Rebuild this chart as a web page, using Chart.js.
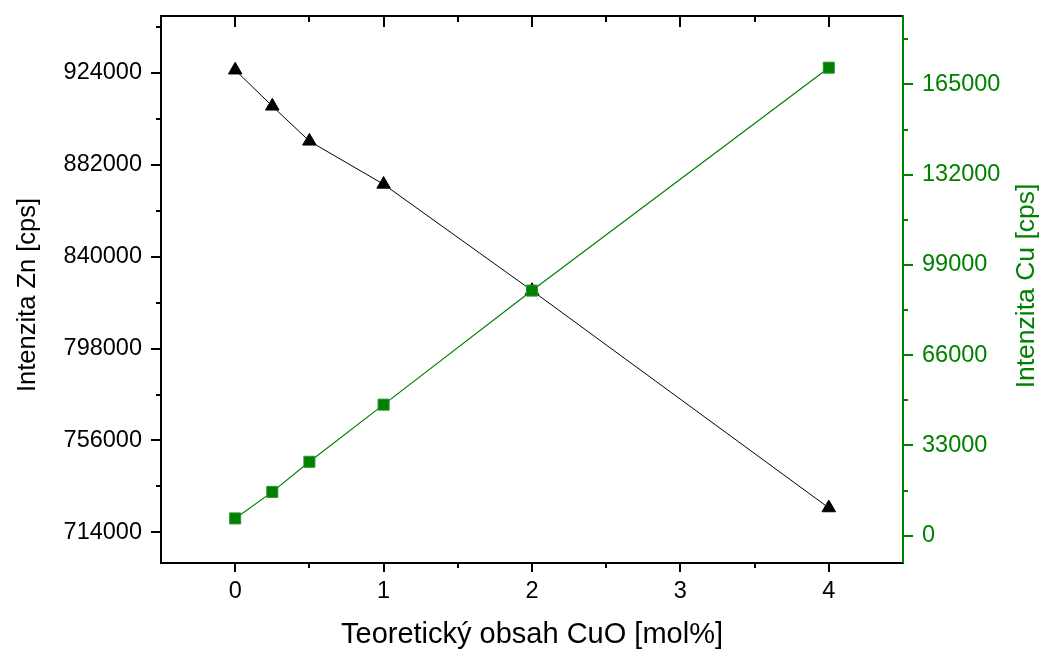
<!DOCTYPE html>
<html><head><meta charset="utf-8">
<script src="https://cdn.jsdelivr.net/npm/chart.js@4/dist/chart.umd.min.js"></script>
<style>html,body{margin:0;padding:0;background:#fff}#wrap{width:1045px;height:650px}</style>
</head><body><div id="wrap"><canvas id="c" width="1045" height="650"></canvas></div>
<script>
// ---- data ----
const cuoContent = [0, 0.25, 0.5, 1, 2, 4];
const znIntensity = [925300, 908800, 892800, 873100, 824500, 725200];
const cuIntensity = [6300, 16000, 27000, 47900, 89600, 171100];
// ---- tick labels ----
const xMajorTicks = [0, 1, 2, 3, 4];
const xMinorTicks = [0.5, 1.5, 2.5, 3.5];
const znMajorTicks = [714000, 756000, 798000, 840000, 882000, 924000];
const znMinorTicks = [735000, 777000, 819000, 861000, 903000, 945000];
const cuMajorTicks = [0, 33000, 66000, 99000, 132000, 165000];
const cuMinorTicks = [16500, 49500, 82500, 115500, 148500, 181500];
const xTitle = 'Teoretický obsah CuO [mol%]';
const znTitle = 'Intenzita Zn [cps]';
const cuTitle = 'Intenzita Cu [cps]';

const GREEN = '#008000';
const FONT = "'Liberation Sans', Arial, sans-serif";
Chart.defaults.font.family = FONT;

function verticalTitle(ctx, text, color, size, baselineX, centerY) {
  ctx.save();
  ctx.fillStyle = color;
  ctx.font = size + 'px ' + FONT;
  ctx.textAlign = 'center';
  ctx.textBaseline = 'alphabetic';
  ctx.translate(baselineX, centerY);
  ctx.rotate(-Math.PI / 2);
  ctx.fillText(text, 0, 0);
  ctx.restore();
}

const frameTicks = {
  id: 'frameTicks',
  afterDraw(chart) {
    const {ctx, chartArea: a, scales} = chart;
    const x = scales.x, yl = scales.yZn, yr = scales.yCu;
    ctx.save();
    ctx.lineWidth = 2;
    ctx.lineCap = 'butt';
    ctx.strokeStyle = '#000';
    ctx.beginPath();
    ctx.moveTo(a.left, a.bottom); ctx.lineTo(a.left, a.top - 1);
    ctx.moveTo(a.left - 1, a.top); ctx.lineTo(a.right, a.top);
    ctx.moveTo(a.left - 1, a.bottom); ctx.lineTo(a.right + 1, a.bottom);
    xMajorTicks.forEach(v => { const p = Math.round(x.getPixelForValue(v));
      ctx.moveTo(p, a.bottom); ctx.lineTo(p, a.bottom + 9);
      ctx.moveTo(p, a.top); ctx.lineTo(p, a.top + 11); });
    xMinorTicks.forEach(v => { const p = Math.round(x.getPixelForValue(v));
      ctx.moveTo(p, a.bottom); ctx.lineTo(p, a.bottom + 5);
      ctx.moveTo(p, a.top); ctx.lineTo(p, a.top + 6); });
    znMajorTicks.forEach(v => { const p = Math.round(yl.getPixelForValue(v));
      ctx.moveTo(a.left, p); ctx.lineTo(a.left - 10, p); });
    znMinorTicks.forEach(v => { const p = Math.round(yl.getPixelForValue(v));
      ctx.moveTo(a.left, p); ctx.lineTo(a.left - 5, p); });
    ctx.stroke();
    ctx.strokeStyle = GREEN;
    ctx.beginPath();
    ctx.moveTo(a.right, a.top - 1); ctx.lineTo(a.right, a.bottom);
    cuMajorTicks.forEach(v => { const p = Math.round(yr.getPixelForValue(v));
      ctx.moveTo(a.right, p); ctx.lineTo(a.right + 10, p); });
    cuMinorTicks.forEach(v => { const p = Math.round(yr.getPixelForValue(v));
      ctx.moveTo(a.right, p); ctx.lineTo(a.right + 5, p); });
    ctx.stroke();
    ctx.restore();
    verticalTitle(ctx, znTitle, '#000', 25.5, 35, 295);
    verticalTitle(ctx, cuTitle, GREEN, 26.5, 1034, 286);
  }
};

const setTicks = arr => scale => { scale.ticks = arr.map(v => ({value: v})); };
const noPad = s => { s.paddingTop = 0; s.paddingBottom = 0; s.paddingLeft = 0; s.paddingRight = 0; };

new Chart(document.getElementById('c'), {
  type: 'line',
  data: {
    datasets: [
      {
        label: 'Cu',
        data: cuoContent.map((v, i) => ({x: v, y: cuIntensity[i]})),
        yAxisID: 'yCu',
        borderColor: GREEN,
        borderWidth: 1.2,
        backgroundColor: GREEN,
        pointStyle: 'rect',
        pointRadius: 7.8,
        pointBackgroundColor: GREEN,
        pointBorderColor: '#2e922e',
        pointBorderWidth: 1,
        tension: 0,
        order: 0
      },
      {
        label: 'Zn',
        data: cuoContent.map((v, i) => ({x: v, y: znIntensity[i]})),
        yAxisID: 'yZn',
        borderColor: '#000',
        borderWidth: 1,
        backgroundColor: '#000',
        pointStyle: 'triangle',
        pointRadius: 7.8,
        pointBackgroundColor: '#000',
        pointBorderColor: '#000',
        pointBorderWidth: 1,
        tension: 0,
        order: 1
      }
    ]
  },
  options: {
    responsive: false,
    animation: false,
    devicePixelRatio: 1,
    layout: {padding: {top: 16, left: 0, right: 0, bottom: 0}},
    plugins: {legend: {display: false}, tooltip: {enabled: false}},
    scales: {
      x: {
        type: 'linear', position: 'bottom', min: -0.5, max: 4.5,
        afterBuildTicks: setTicks(xMajorTicks),
        afterFit(s) { s.height = 87; noPad(s); },
        grid: {display: false, drawTicks: false},
        border: {display: false},
        ticks: {color: '#000', font: {size: 23.5}, padding: 14, maxRotation: 0, callback: v => String(v)},
        title: {display: true, text: xTitle, color: '#000', font: {size: 29}, padding: {top: 0, bottom: -2}}
      },
      yZn: {
        type: 'linear', position: 'left', min: 700000, max: 950000,
        afterBuildTicks: setTicks(znMajorTicks),
        afterFit(s) { s.width = 161; noPad(s); },
        grid: {display: false, drawTicks: false},
        border: {display: false},
        ticks: {color: '#000', font: {size: 23.5}, padding: 19, callback: v => String(v)},
        title: {display: false}
      },
      yCu: {
        type: 'linear', position: 'right', min: -10000, max: 190000,
        afterBuildTicks: setTicks(cuMajorTicks),
        afterFit(s) { s.width = 142; noPad(s); },
        grid: {display: false, drawTicks: false},
        border: {display: false},
        ticks: {color: GREEN, font: {size: 23.5}, padding: 19, callback: v => String(v)},
        title: {display: false}
      }
    }
  },
  plugins: [frameTicks]
});
</script>
</body></html>
